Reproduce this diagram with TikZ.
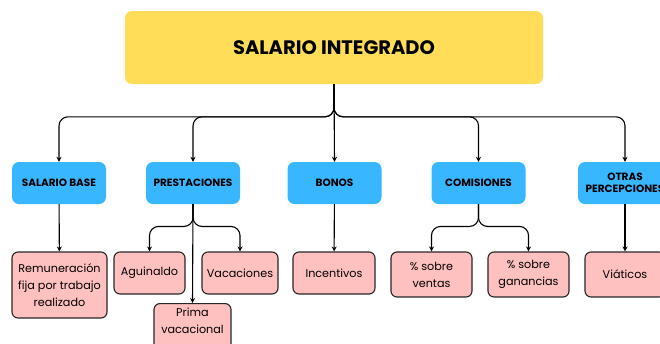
\documentclass[tikz,border=0pt]{standalone}
\usepackage{fontspec}
\setmainfont{Poppins}
\usetikzlibrary{arrows.meta}
\definecolor{yellowbox}{HTML}{FFDD59}
\definecolor{bluebox}{HTML}{38B6FF}
\definecolor{pinkbox}{HTML}{FFC0C0}
\begin{document}
\begin{tikzpicture}[x=1pt,y=-1pt,
      title/.style={fill=yellowbox,rounded corners=7pt,minimum width=418pt,
        minimum height=73pt,font=\bfseries\fontsize{19.5}{22}\selectfont},
      cat/.style={fill=bluebox,rounded corners=7pt,minimum width=94pt,
        minimum height=42pt,align=center,inner sep=1pt,font=\bfseries\fontsize{10.5}{12.5}\selectfont},
      leaf/.style={draw=black!85,line width=1.1pt,fill=pinkbox,rounded corners=6pt,
        align=center,inner sep=2pt,font=\fontsize{11.2}{17}\selectfont},
      conn/.style={line width=1.1pt,rounded corners=9pt,-{Stealth[length=5pt,width=5pt]}}]
      \useasboundingbox (0,0) rectangle (660,343);
      \clip (0,0) rectangle (660,343);
      \node[title] (salario) at (334,47.5) {SALARIO INTEGRADO};
      \node[cat] (base) at (59,183) {SALARIO BASE};
      \node[cat] (prest) at (193,183) {PRESTACIONES};
      \node[cat] (bonos) at (334.5,183) {BONOS};
      \node[cat] (comis) at (478.5,183) {COMISIONES};
      \node[cat] (otras) at (625,183) {OTRAS\\PERCEPCIONES};
      \node[leaf,minimum width=95pt,minimum height=66pt] (remun) at (59.5,285)
        {Remuneración\\fija por trabajo\\realizado};
      \node[leaf,minimum width=71pt,minimum height=42pt] (aguin) at (149.5,273) {Aguinaldo};
      \node[leaf,minimum width=76pt,minimum height=42pt] (vacac) at (240,273) {Vacaciones};
      \node[leaf,minimum width=77pt,minimum height=56pt,anchor=north] (prima) at (192.5,303)
        {Prima\\vacacional\\[4pt]};
      \node[leaf,minimum width=82pt,minimum height=42pt] (incen) at (334,273) {Incentivos};
      \node[leaf,minimum width=81pt,minimum height=45pt] (ventas) at (431.5,274.5) {\% sobre\\ventas};
      \node[leaf,minimum width=81pt,minimum height=45pt] (ganan) at (528.5,274.5) {\% sobre\\ganancias};
      \node[leaf,minimum width=80pt,minimum height=45pt] (viat) at (625,274.5) {Viáticos};
      % main branches
      \foreach \c in {base,prest,comis,otras}
        \draw[conn] (salario.south) |- ([yshift=45pt]\c.north) -- (\c.north);
      \draw[conn] (salario.south) -- (bonos.north);
      % second level
      \draw[conn] (base) -- (remun);
      \draw[conn] (bonos) -- (incen);
      \draw[conn] (otras) -- (viat);
      \draw[conn] (prest.south) |- ([yshift=25pt]aguin.north) -- (aguin.north);
      \draw[conn] (prest.south) |- ([yshift=25pt]vacac.north) -- (vacac.north);
      \draw[conn] (prest.south) -- (prima.north);
      \draw[conn] (comis.south) |- ([yshift=25pt]ventas.north) -- (ventas.north);
      \draw[conn] (comis.south) |- ([yshift=25pt]ganan.north) -- (ganan.north);
\end{tikzpicture}
\end{document}
